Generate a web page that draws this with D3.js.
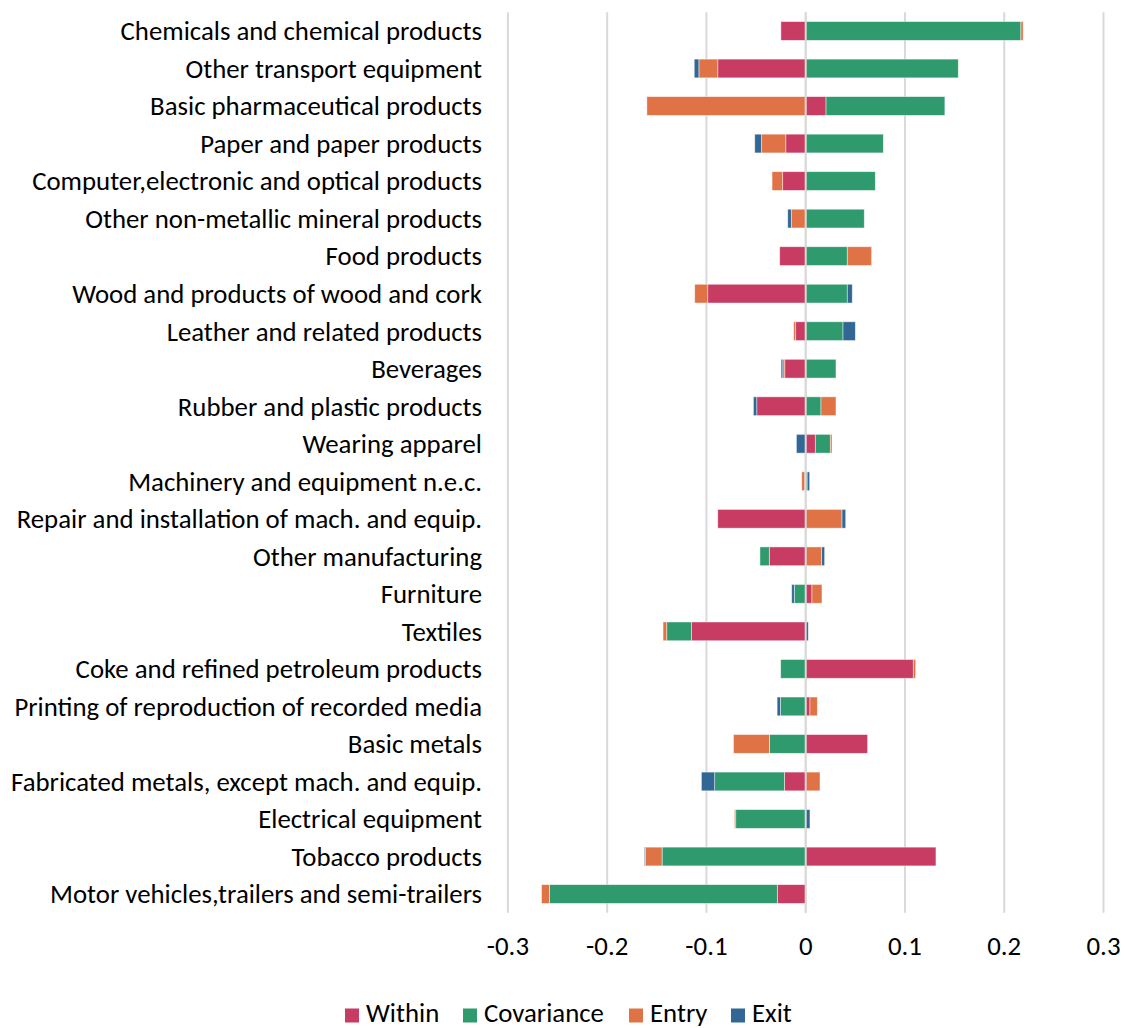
<!DOCTYPE html>
<html>
<head>
<meta charset="utf-8">
<script src="https://cdn.jsdelivr.net/npm/d3@7"></script>
<style>
  html, body { margin: 0; padding: 0; background: #fff; overflow: hidden; }
  svg { display: block; font-family: Carlito, Lato, "Open Sans", sans-serif; }
</style>
</head>
<body>
<svg id="chart" width="1126" height="1028"></svg>
<script>
const categories = [
  "Chemicals and chemical products",
  "Other transport equipment",
  "Basic pharmaceutical products",
  "Paper and paper products",
  "Computer,electronic and optical products",
  "Other non-metallic mineral products",
  "Food products",
  "Wood and products of wood and cork",
  "Leather and related products",
  "Beverages",
  "Rubber and plastic products",
  "Wearing apparel",
  "Machinery and equipment n.e.c.",
  "Repair and installation of mach. and equip.",
  "Other manufacturing",
  "Furniture",
  "Textiles",
  "Coke and refined petroleum products",
  "Printing of reproduction of recorded media",
  "Basic metals",
  "Fabricated metals, except mach. and equip.",
  "Electrical equipment",
  "Tobacco products",
  "Motor vehicles,trailers and semi-trailers"
];
const seriesNames = ["Within", "Covariance", "Entry", "Exit"];
const withinValues = [-0.025, -0.0886, 0.0205, -0.0201, -0.0232, 0, -0.0262, -0.0987, -0.0101, -0.0211, -0.0493, 0.0097, -0.001, -0.0886, -0.0367, 0.0063, -0.1152, 0.1084, 0.0043, 0.0624, -0.0215, 0, 0.1312, -0.0286];
const covarianceValues = [0.2168, 0.1537, 0.1197, 0.0782, 0.0701, 0.059, 0.0419, 0.0419, 0.0376, 0.0305, 0.0154, 0.0151, 0.0015, 0, -0.0094, -0.0115, -0.0248, -0.0252, -0.0255, -0.0366, -0.0702, -0.0705, -0.1447, -0.2296];
const entryValues = [0.0023, -0.019, -0.16, -0.0245, -0.0107, -0.0145, 0.0245, -0.0131, -0.002, -0.002, 0.0151, 0.0017, -0.003, 0.0366, 0.0161, 0.0101, -0.0037, 0.0024, 0.0074, -0.0362, 0.0144, -0.0013, -0.0168, -0.008];
const exitValues = [0, -0.0047, 0, -0.0067, 0, -0.0036, 0, 0.005, 0.0124, -0.0017, -0.0034, -0.0094, 0.0025, 0.0037, 0.003, -0.0026, 0.0026, 0, -0.0033, 0, -0.0134, 0.0043, -0.001, 0];
const xTicks = [-0.3, -0.2, -0.1, 0, 0.1, 0.2, 0.3];
const tickLabels = ["-0.3", "-0.2", "-0.1", "0", "0.1", "0.2", "0.3"];
const colors = ["#C83C64", "#2E9A6E", "#E07346", "#326795"];

const valuesBySeries = [withinValues, covarianceValues, entryValues, exitValues];
const rows = categories.map((c, i) => {
  const r = { category: c };
  seriesNames.forEach((s, k) => r[s] = valuesBySeries[k][i]);
  return r;
});

const svg = d3.select("#chart");
const plotTop = 12.2, plotBottom = 912.8;
const FS = 26.8;
const x = d3.scaleLinear().domain([-0.3, 0.3]).range([507.9, 1103.5]);
const y = d3.scaleBand().domain(categories).range([plotTop, plotBottom]).paddingInner(0.5).paddingOuter(0.25);
const color = d3.scaleOrdinal().domain(seriesNames).range(colors);

// gridlines
svg.append("g").selectAll("line").data(xTicks).join("line")
  .attr("x1", d => x(d)).attr("x2", d => x(d))
  .attr("y1", plotTop).attr("y2", plotBottom)
  .attr("stroke", "#d9d9d9").attr("stroke-width", 2);

const stack = d3.stack().keys(seriesNames).offset(d3.stackOffsetDiverging);
const stacked = stack(rows);

svg.append("g").selectAll("g").data(stacked).join("g")
  .attr("fill", d => color(d.key))
  .selectAll("rect").data(d => d.filter(p => p[1] !== p[0])).join("rect")
  .attr("x", d => x(Math.min(d[0], d[1])))
  .attr("width", d => Math.abs(x(d[1]) - x(d[0])))
  .attr("y", d => y(d.data.category))
  .attr("height", y.bandwidth())
  .attr("stroke", "#fff").attr("stroke-opacity", 0.6).attr("stroke-width", 0.75);

// zero line over bars
svg.append("line")
  .attr("x1", x(0)).attr("x2", x(0))
  .attr("y1", plotTop).attr("y2", plotBottom)
  .attr("stroke", "#d9d9d9").attr("stroke-width", 2);

// category labels
svg.append("g").selectAll("text").data(categories).join("text")
  .attr("x", 482)
  .attr("y", d => y(d) + y.bandwidth() / 2)
  .attr("dy", "0.35em")
  .attr("text-anchor", "end")
  .attr("font-size", FS)
  .attr("fill", "#000")
  .text(d => d);

// x tick labels
svg.append("g").selectAll("text").data(xTicks).join("text")
  .attr("x", d => x(d))
  .attr("y", 946)
  .attr("dy", "0.35em")
  .attr("text-anchor", "middle")
  .attr("font-size", FS)
  .attr("fill", "#000")
  .text((d, i) => tickLabels[i]);

// legend
const legendX = [345, 463, 629, 731];
const lg = svg.append("g").selectAll("g").data(seriesNames).join("g")
  .attr("transform", (d, i) => `translate(${legendX[i]},1008.5)`);
lg.append("rect").attr("width", 14).attr("height", 14).attr("fill", d => color(d));
lg.append("text").attr("x", 21).attr("y", 13)
  .attr("font-size", FS).attr("fill", "#000").text(d => d);
</script>
</body>
</html>
